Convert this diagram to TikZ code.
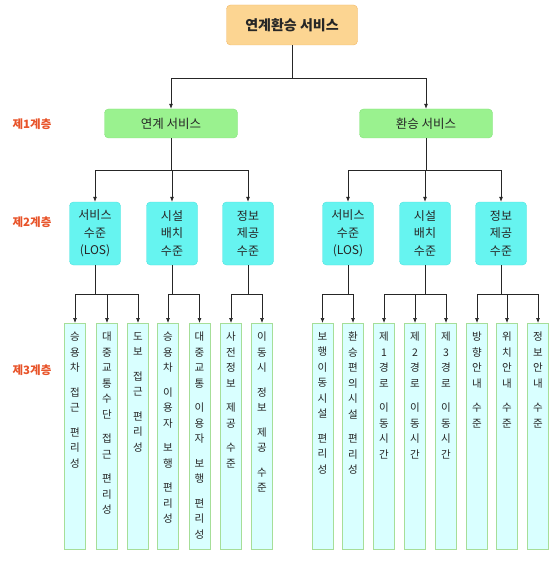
\documentclass[tikz,border=0pt]{standalone}
\usepackage{fontspec}
\setmainfont{Noto Sans CJK KR}
\usetikzlibrary{arrows.meta}

\definecolor{topfill}{HTML}{FCD592}
\definecolor{topline}{HTML}{F2B766}
\definecolor{onefill}{HTML}{9AF28F}
\definecolor{oneline}{HTML}{86E27C}
\definecolor{twofill}{HTML}{66F4F0}
\definecolor{twoline}{HTML}{4EE2DE}
\definecolor{leaffill}{HTML}{D9FFFF}
\definecolor{leafline}{HTML}{A6DE98}
\definecolor{lvlred}{HTML}{E8542A}

\newcommand{\gp}{\\[9pt]}

\begin{document}
\begin{tikzpicture}[x=1pt,y=-1pt,
    box/.style={rounded corners=4pt, align=center, inner sep=0pt, text=black!85},
    topbox/.style={box, fill=topfill, draw=topline, minimum width=131pt, minimum height=40pt,
        font=\fontsize{14}{16}\selectfont\bfseries},
    onebox/.style={box, fill=onefill, draw=oneline, minimum width=133pt, minimum height=29pt,
        font=\fontsize{12.5}{14}\selectfont},
    twobox/.style={box, fill=twofill, draw=twoline, minimum width=51pt, minimum height=63pt,
        font=\fontsize{12}{17.5}\selectfont},
    leaf/.style={draw=leafline, fill=leaffill, minimum width=21pt, minimum height=226pt,
        inner sep=0pt, anchor=north},
    leaftext/.style={anchor=north, yshift=-9pt, align=center, inner sep=0pt,
        text=black!85, font=\fontsize{10.5}{15.5}\selectfont},
    lvl/.style={text=lvlred, font=\fontsize{11.5}{13}\selectfont\bfseries},
    link/.style={draw=black!85, line width=0.7pt},
    arr/.style={link, -{Latex[length=5pt,width=4pt]}}]

    \useasboundingbox (0,0) rectangle (548,561);

    % level labels
    \node[lvl] (g1) at (32,124) {제1계층};
    \node[lvl] (g2) at (32,222) {제2계층};
    \node[lvl] (g3) at (32,370) {제3계층};

    % top and first level
    \node[topbox] (top) at (292,25) {연계환승 서비스};
    \node[onebox] (s1) at (171,123.5) {연계 서비스};
    \node[onebox] (s2) at (426,123.5) {환승 서비스};

    % second level
    \node[twobox] (a1) at (95,233.5) {서비스\\수준\\(LOS)};
    \node[twobox] (a2) at (172,233.5) {시설\\배치\\수준};
    \node[twobox] (a3) at (248,233.5) {정보\\제공\\수준};
    \node[twobox] (b1) at (348,233.5) {서비스\\수준\\(LOS)};
    \node[twobox] (b2) at (425,233.5) {시설\\배치\\수준};
    \node[twobox] (b3) at (501,233.5) {정보\\제공\\수준};

    % third level
    \node[leaf] (c1) at (75,323) {};
    \node[leaf] (c2) at (107,323) {};
    \node[leaf] (c3) at (138,323) {};
    \node[leaf] (c4) at (168,323) {};
    \node[leaf] (c5) at (199.5,323) {};
    \node[leaf] (c6) at (231,323) {};
    \node[leaf] (c7) at (262,323) {};
    \node[leaf] (c8) at (322.5,323) {};
    \node[leaf] (c9) at (353,323) {};
    \node[leaf] (c10) at (384,323) {};
    \node[leaf] (c11) at (415,323) {};
    \node[leaf] (c12) at (446,323) {};
    \node[leaf] (c13) at (477,323) {};
    \node[leaf] (c14) at (507,323) {};
    \node[leaf] (c15) at (538,323) {};

    \node[leaftext] (t1) at (c1.north) {승\\용\\차\gp 접\\근\gp 편\\리\\성};
    \node[leaftext] (t2) at (c2.north) {대\\중\\교\\통\\수\\단\gp 접\\근\gp 편\\리\\성};
    \node[leaftext] (t3) at (c3.north) {도\\보\gp 접\\근\gp 편\\리\\성};
    \node[leaftext] (t4) at (c4.north) {승\\용\\차\gp 이\\용\\자\gp 보\\행\gp 편\\리\\성};
    \node[leaftext] (t5) at (c5.north) {대\\중\\교\\통\gp 이\\용\\자\gp 보\\행\gp 편\\리\\성};
    \node[leaftext] (t6) at (c6.north) {사\\전\\정\\보\gp 제\\공\gp 수\\준};
    \node[leaftext] (t7) at (c7.north) {이\\동\\시\gp 정\\보\gp 제\\공\gp 수\\준};
    \node[leaftext] (t8) at (c8.north) {보\\행\\이\\동\\시\\설\gp 편\\리\\성};
    \node[leaftext] (t9) at (c9.north) {환\\승\\편\\의\\시\\설\gp 편\\리\\성};
    \node[leaftext] (t10) at (c10.north) {제\\1\\경\\로\gp 이\\동\\시\\간};
    \node[leaftext] (t11) at (c11.north) {제\\2\\경\\로\gp 이\\동\\시\\간};
    \node[leaftext] (t12) at (c12.north) {제\\3\\경\\로\gp 이\\동\\시\\간};
    \node[leaftext] (t13) at (c13.north) {방\\향\\안\\내\gp 수\\준};
    \node[leaftext] (t14) at (c14.north) {위\\치\\안\\내\gp 수\\준};
    \node[leaftext] (t15) at (c15.north) {정\\보\\안\\내\gp 수\\준};

    % junctions
    \coordinate (j0) at (292,78);
    \coordinate (j1) at (171,170);
    \coordinate (j2) at (426,170);
    \coordinate (ja1) at (95,294);
    \coordinate (ja2) at (172,294);
    \coordinate (ja3) at (248,294);
    \coordinate (jb1) at (348,294);
    \coordinate (jb2) at (425,294);
    \coordinate (jb3) at (501,294);

    % connectors
    \draw[link] (top) -- (j0);
    \draw[arr] (j0) -| (s1);
    \draw[arr] (j0) -| (s2);

    \draw[link] (s1) -- (j1);
    \draw[arr] (j1) -| (a1);
    \draw[arr] (j1) -| (a2);
    \draw[arr] (j1) -| (a3);
    \draw[link] (s2) -- (j2);
    \draw[arr] (j2) -| (b1);
    \draw[arr] (j2) -| (b2);
    \draw[arr] (j2) -| (b3);

    \draw[link] (a1) -- (ja1);
    \draw[arr] (ja1) -| (c1);
    \draw[arr] (ja1) -| (c2);
    \draw[arr] (ja1) -| (c3);
    \draw[link] (a2) -- (ja2);
    \draw[arr] (ja2) -| (c4);
    \draw[arr] (ja2) -| (c5);
    \draw[link] (a3) -- (ja3);
    \draw[arr] (ja3) -| (c6);
    \draw[arr] (ja3) -| (c7);

    \draw[link] (b1) -- (jb1);
    \draw[arr] (jb1) -| (c8);
    \draw[arr] (jb1) -| (c9);
    \draw[link] (b2) -- (jb2);
    \draw[arr] (jb2) -| (c10);
    \draw[arr] (jb2) -| (c11);
    \draw[arr] (jb2) -| (c12);
    \draw[link] (b3) -- (jb3);
    \draw[arr] (jb3) -| (c13);
    \draw[arr] (jb3) -| (c14);
    \draw[arr] (jb3) -| (c15);
\end{tikzpicture}
\end{document}
